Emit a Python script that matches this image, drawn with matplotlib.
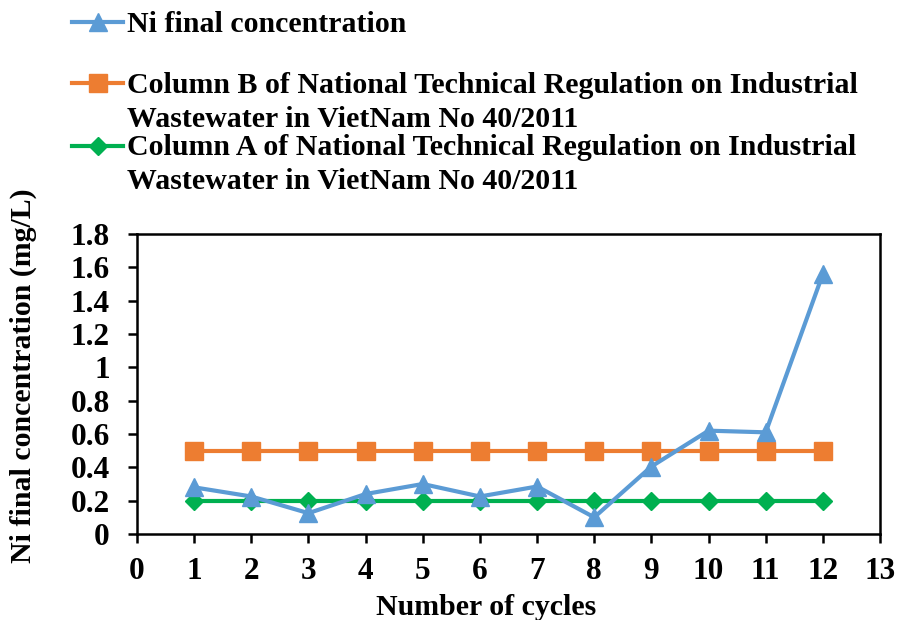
import numpy as np
import matplotlib.pyplot as plt
from matplotlib.lines import Line2D

# 数据
cycles = [1, 2, 3, 4, 5, 6, 7, 8, 9, 10, 11, 12]
ni_final = [0.28, 0.225, 0.125, 0.24, 0.30, 0.225, 0.285, 0.10, 0.405, 0.62, 0.61, 1.56]
col_b = [0.5] * 12
col_a = [0.2] * 12

labels = ['Ni final concentration',
          'Column B of National Technical Regulation on Industrial\nWastewater in VietNam No 40/2011',
          'Column A of National Technical Regulation on Industrial\nWastewater in VietNam No 40/2011']
colors = ['#5B9BD5', '#ED7D31', '#00B050']
markers = ['^', 's', 'D']
msizes = [13, 13, 9.5]

plt.rcParams['font.family'] = ['Liberation Serif', 'DejaVu Serif']
plt.rcParams['font.weight'] = 'bold'

W, H = 897, 620
fig = plt.figure(figsize=(W / 100, H / 100), dpi=100)
ax = fig.add_axes([137 / W, 1 - 534 / H, (880 - 137) / W, 300 / H])

series = [ni_final, col_b, col_a]
# 画三条线, Ni在最上层
for k in [1, 2, 0]:
    ax.plot(cycles, series[k], color=colors[k], marker=markers[k], markersize=msizes[k],
            linewidth=3, zorder=3 if k == 0 else 2)

ax.set_xlim(0, 13)
ax.set_ylim(0, 1.8)
ax.set_xticks(range(0, 14))
ax.set_yticks(np.arange(0, 1.81, 0.2))
ax.set_yticklabels(['0', '0.2', '0.4', '0.6', '0.8', '1', '1.2', '1.4', '1.6', '1.8'])
ax.tick_params(direction='out', length=6.5, width=1.8, labelsize=22.5)
ax.tick_params(axis='y', pad=13)
ax.tick_params(axis='x', pad=10)
for s in ax.spines.values():
    s.set_linewidth(1.8)
ax.set_xlabel('Number of cycles', fontsize=21.5, fontweight='bold')
ax.xaxis.set_label_coords((486 - 137) / 743, -(615 - 534) / 300, transform=ax.transAxes)
ax.xaxis.label.set_va('baseline')
ax.set_ylabel('Ni final concentration (mg/L)', fontsize=21.5, fontweight='bold')
ax.yaxis.set_label_coords(-(137 - 23) / 743, (534 - 376) / 300)
ax.yaxis.label.set_va('center')

# 图例 (手动画, 句柄对齐第一行)
handle_y = [22, 83, 146]
base_y = [32, 93, 155]
for k in range(3):
    y = 1 - handle_y[k] / H
    fig.add_artist(Line2D([72 / W, 123 / W], [y, y], transform=fig.transFigure,
                          color=colors[k], linewidth=3))
    fig.add_artist(Line2D([97.5 / W], [y], transform=fig.transFigure,
                          color=colors[k], marker=markers[k],
                          markersize=msizes[k], linestyle='none'))
    for i, line in enumerate(labels[k].split('\n')):
        fig.text(127 / W, 1 - (base_y[k] + 34 * i) / H, line, fontsize=21.5,
                 fontweight='bold', va='baseline', ha='left')

fig.savefig('out.png', dpi=100)
